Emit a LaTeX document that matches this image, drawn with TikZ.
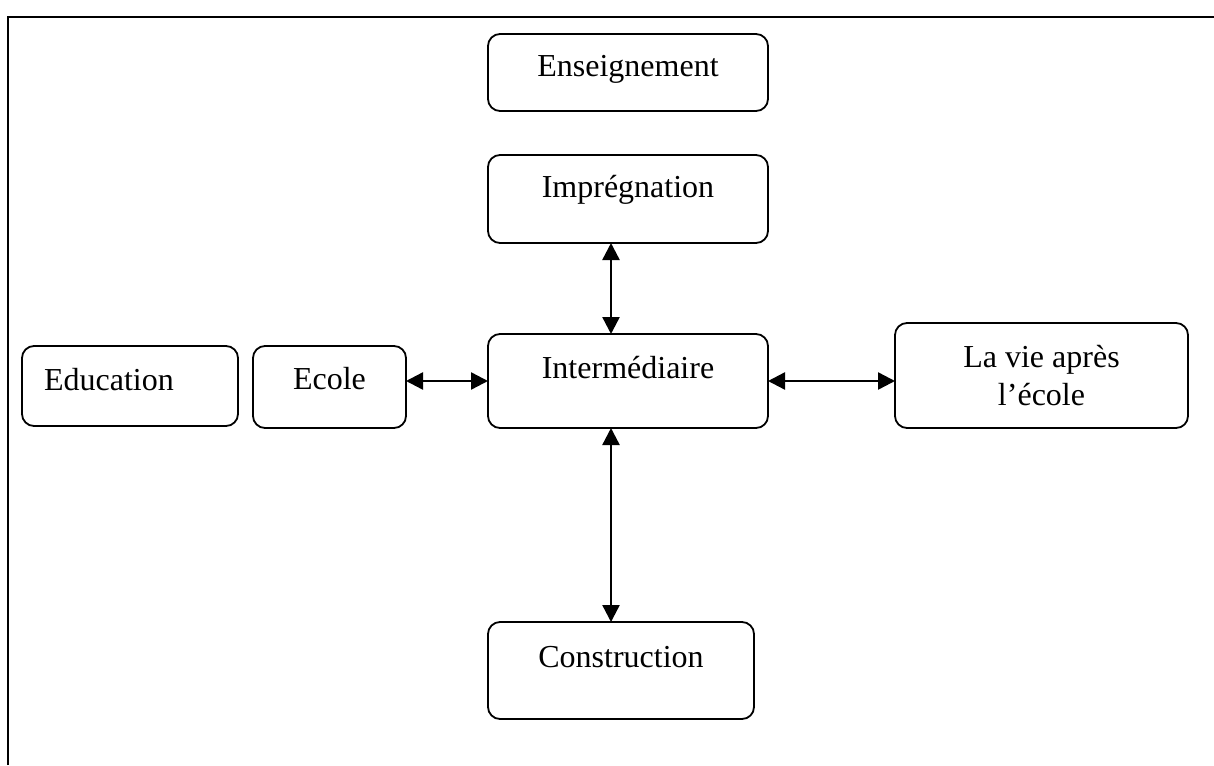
\documentclass[tikz,border=0pt]{standalone}
\usepackage{fontspec}
\setmainfont{Liberation Serif}
\usetikzlibrary{arrows.meta}
\begin{document}
\begin{tikzpicture}[x=1pt,y=-1pt,
  box/.style={draw, line width=1.8pt, rounded corners=12pt, inner sep=0pt, outer sep=0pt},
  txt/.style={anchor=base, inner sep=0pt, font=\fontsize{32}{38}\selectfont},
  tip/.style={Triangle[length=17pt,width=17pt]},
  link/.style={line width=2.4pt, {Triangle[length=17pt,width=17pt]}-{Triangle[length=17pt,width=17pt]}}]
\useasboundingbox (0,0) rectangle (1214,765);
% open frame: top and left edges only
\draw[line width=2.2pt] (8,765) -- (8,17) -- (1214,17);
% boxes
\node[box, minimum width=280pt, minimum height=77pt] (ens) at (628,72.5) {};
\node[box, minimum width=280pt, minimum height=88pt] (imp) at (628,199) {};
\node[box, minimum width=280pt, minimum height=94pt] (int) at (628,381) {};
\node[box, minimum width=153pt, minimum height=82pt] (eco) at (329.5,387) {};
\node[box, minimum width=216pt, minimum height=80pt] (edu) at (130,386) {};
\node[box, minimum width=293pt, minimum height=105pt] (vie) at (1041.5,375.5) {};
\node[box, minimum width=266pt, minimum height=97pt] (con) at (621,670.5) {};
% labels
\node[txt] (tens) at (628,77) {Enseignement};
\node[txt] (timp) at (628,197) {Imprégnation};
\node[txt] (tint) at (628,378) {Intermédiaire};
\node[txt] (teco) at (329.5,389) {Ecole};
\node[txt] (tedu) at (109,390) {Education};
\node[txt] (tvie1) at (1041.5,367) {La vie après};
\node[txt] (tvie2) at (1041.5,405) {l’école};
\node[txt] (tcon) at (621,667) {Construction};
% connectors
\draw[link] ([xshift=-17pt]imp.south) -- ([xshift=-17pt]int.north);
\draw[link] ([xshift=-17pt]int.south) -- ([xshift=-10pt]con.north);
\draw[link] ([yshift=6pt]eco.east) -- (int.west);
\draw[link] (int.east) -- ([yshift=-5.5pt]vie.west);
\end{tikzpicture}
\end{document}
